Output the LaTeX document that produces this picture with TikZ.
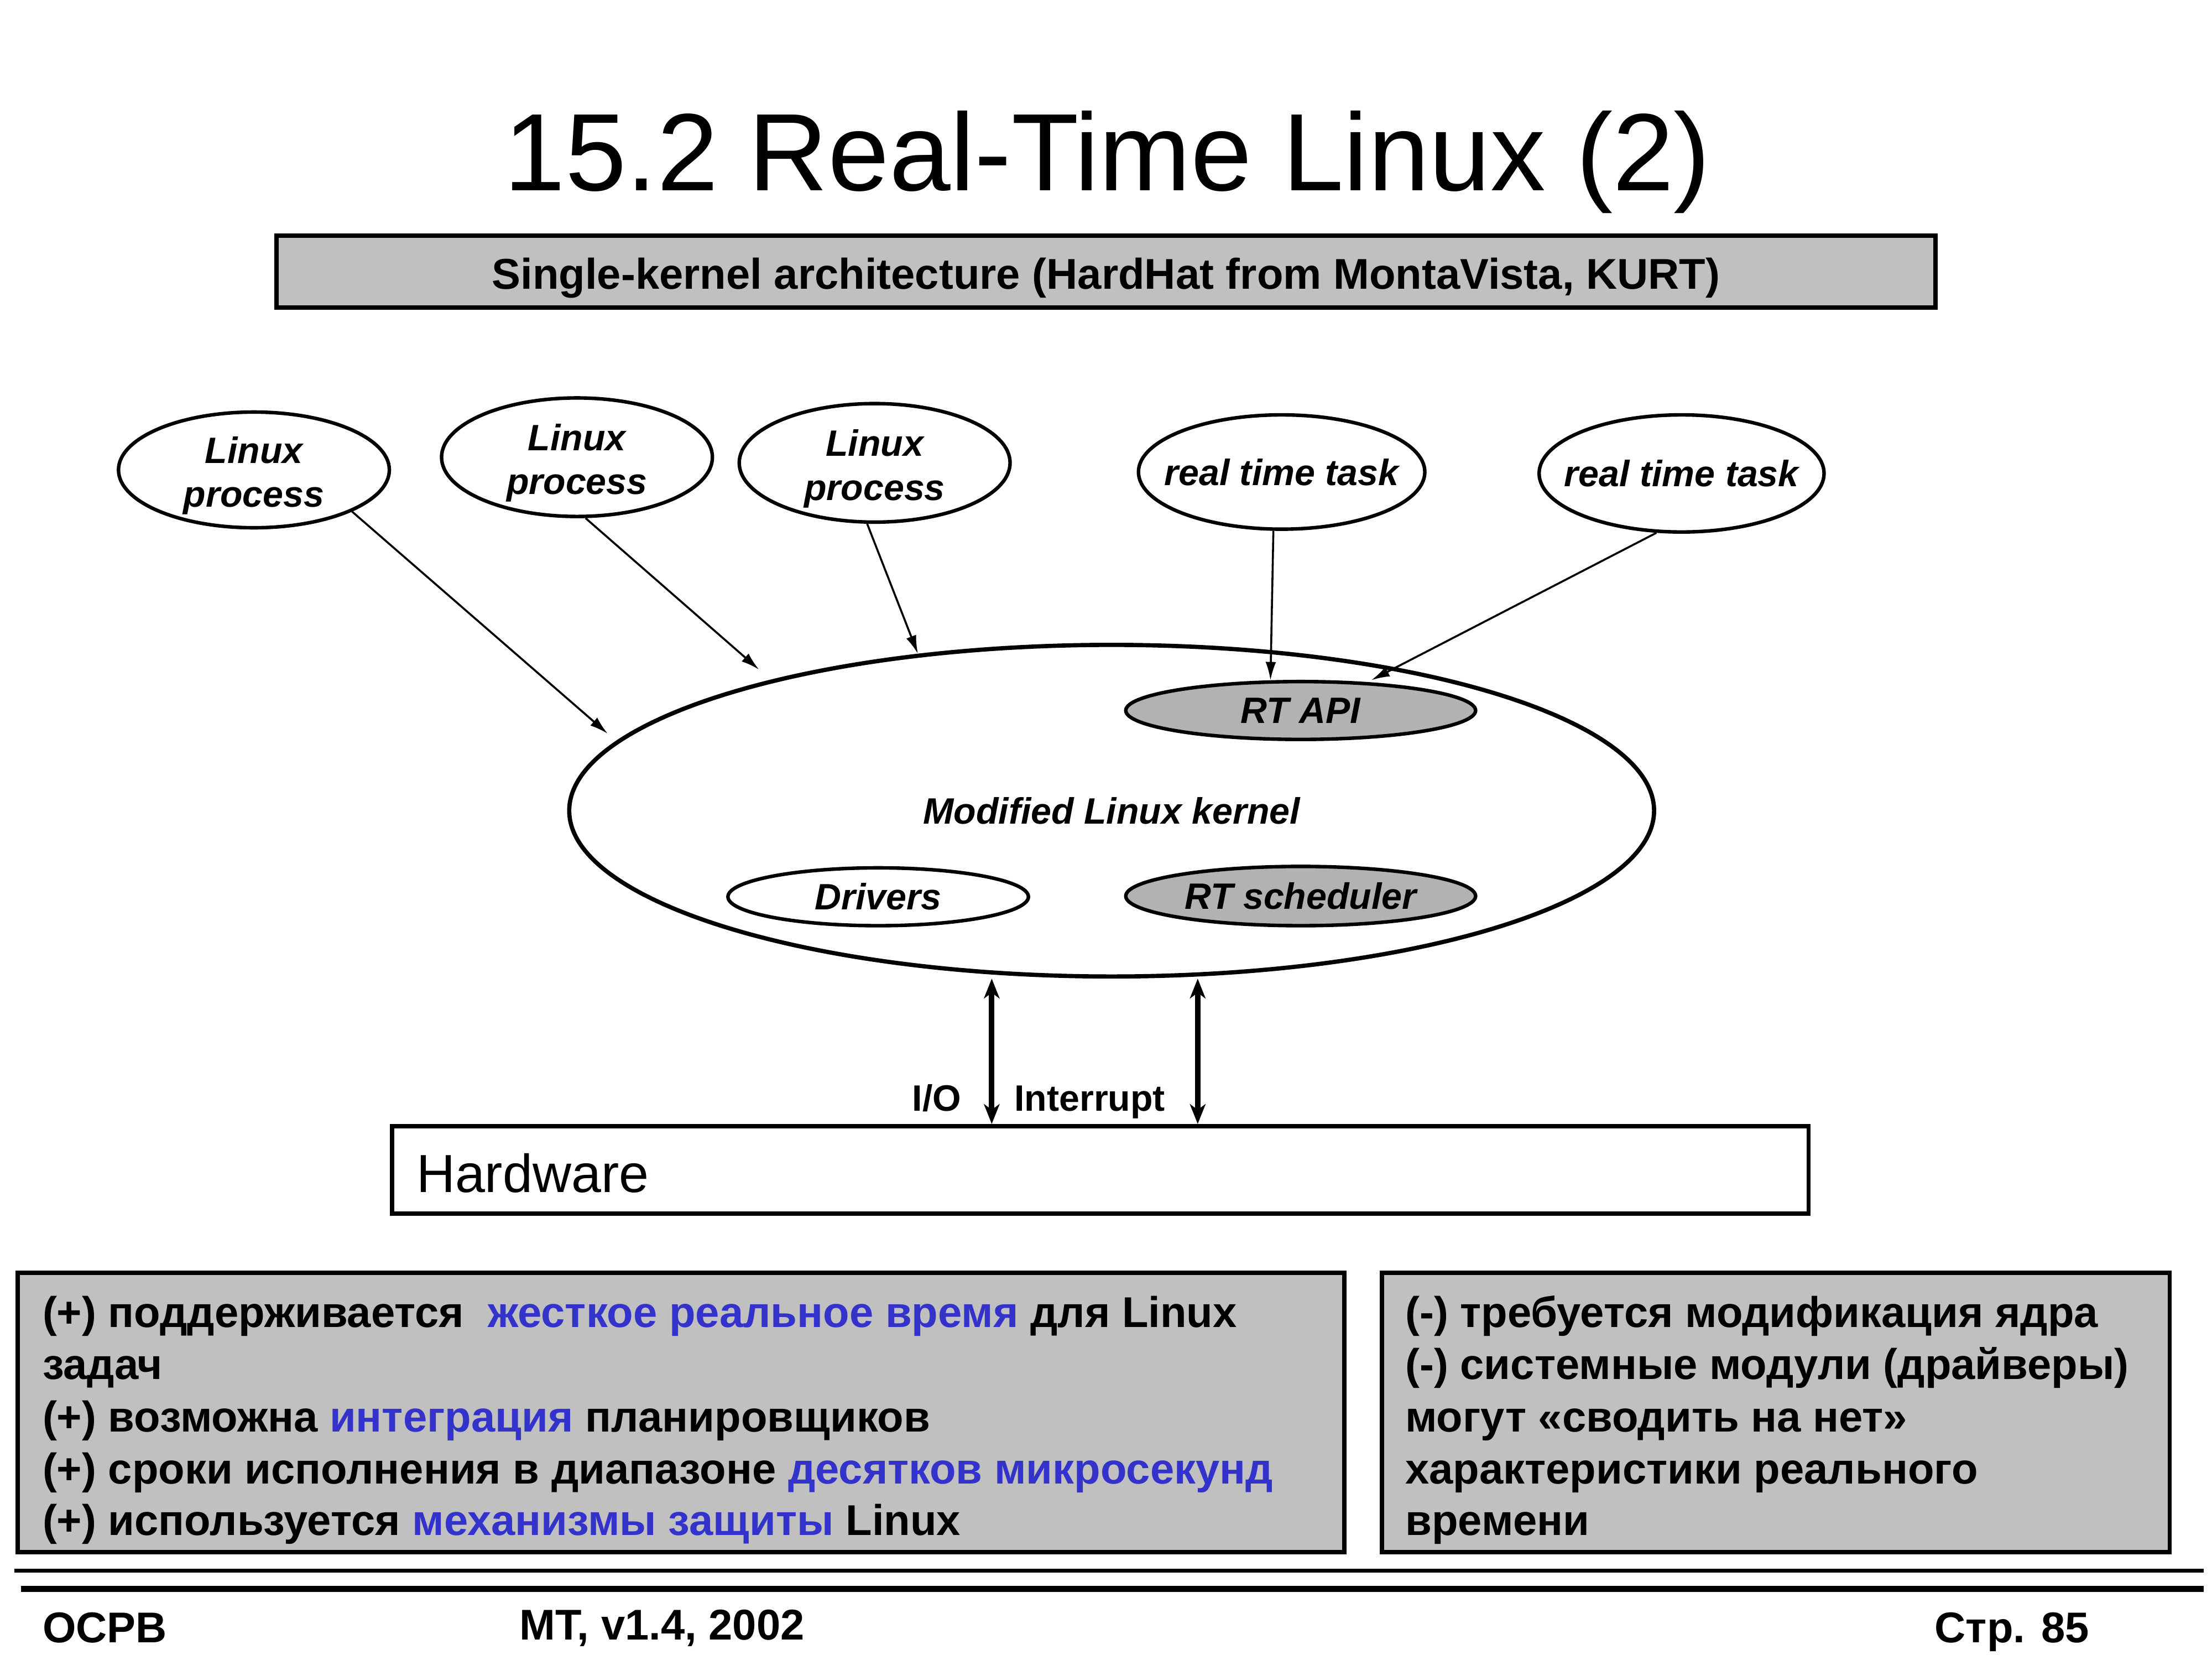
\documentclass[tikz,border=0pt]{standalone}
\usepackage{fontspec}
\setmainfont{Liberation Sans}
\usetikzlibrary{shapes.geometric,arrows.meta}
\definecolor{boxgray}{HTML}{C0C0C0}
\definecolor{apigray}{HTML}{B2B2B2}
\definecolor{hlblue}{HTML}{3333CC}
\newcommand{\bluetext}[1]{\textcolor{hlblue}{#1}}
\newcommand{\lowerline}{\rule{0pt}{27pt}}
\tikzset{
  proc/.style={ellipse, draw, line width=2.5pt, fill=white, inner sep=0pt, align=center,
    font=\bfseries\itshape\fontsize{26}{31.2}\selectfont},
  lproc/.style={proc, inner ysep=-6pt},
  grayfill/.style={fill=apigray},
  thinarrow/.style={line width=1.4pt, -{Latex[length=13pt,width=7.5pt]}},
  ioarrow/.style={line width=4pt, {Stealth[length=14pt,width=11pt,inset=4pt]}-{Stealth[length=14pt,width=11pt,inset=4pt]}},
  panel/.style={draw, line width=3pt, fill=boxgray, inner sep=0pt},
  body/.style={font=\bfseries\fontsize{30.5}{36.9}\selectfont, anchor=base west, inner sep=0pt},
  foot/.style={font=\bfseries\fontsize{30.5}{36}\selectfont, inner sep=0pt},
  iolabel/.style={font=\bfseries\fontsize{26}{31}\selectfont, anchor=base, inner sep=0pt},
}
\begin{document}
\begin{tikzpicture}[x=1pt,y=-1pt]
\useasboundingbox (0,0) rectangle (1568,1176);
\fill[white] (0,0) rectangle (1568,1176);

% title
\node[anchor=base, inner sep=0pt, font=\fontsize{78}{94}\selectfont] (title) at (785,135) {15.2 Real-Time Linux (2)};

% subtitle box
\node[panel, minimum width=1176pt, minimum height=51pt] (subbox) at (784,192.5) {};
\node[anchor=base, inner sep=0pt, font=\bfseries\fontsize{30.5}{36}\selectfont] (subtext) at (784,205) {Single-kernel architecture (HardHat from MontaVista, KURT)};

% process ellipses
\node[lproc, minimum width=192pt, minimum height=82pt] (l1) at (180,333) {\lowerline Linux\\process};
\node[lproc, minimum width=192pt, minimum height=84pt] (l2) at (409,324) {\lowerline Linux\\process};
\node[lproc, minimum width=192pt, minimum height=84pt] (l3) at (620,328) {\lowerline Linux\\process};
\node[proc, inner xsep=-20pt, minimum width=203pt, minimum height=81pt] (r1) at (908.5,334.5) {real time task};
\node[proc, inner xsep=-20pt, minimum width=202pt, minimum height=83pt] (r2) at (1192,335.5) {real time task};

% kernel
\node[proc, line width=3pt, minimum width=769pt, minimum height=235pt] (kernel) at (788,574.5) {\raisebox{-2pt}{Modified Linux kernel}};
\node[proc, grayfill, minimum width=248pt, minimum height=41pt] (api) at (922,503.5) {RT API};
\node[proc, minimum width=213pt, minimum height=41pt] (drv) at (622.5,635.5) {Drivers};
\node[proc, grayfill, minimum width=248pt, minimum height=42pt] (sched) at (922,635) {RT scheduler};

% arrows into kernel
\draw[thinarrow, shorten >=8pt] (l1.-23) -- (kernel.172.5);
\draw[thinarrow, shorten >=11pt] (l2.-82) -- (kernel.159);
\draw[thinarrow] (l3.-97.4) -- (kernel.141.7);
\draw[thinarrow] (r1.-98) -- (api.135);
\draw[thinarrow, shorten >=3pt] (r2.-113.4) -- (api.23.9);

% hardware
\node[draw, line width=3pt, fill=white, minimum width=1004pt, minimum height=62pt, inner sep=0pt] (hw) at (780,829) {};
\node[anchor=base west, inner sep=0pt, font=\fontsize{38}{45}\selectfont] (hwtext) at (295,845) {Hardware};

% I/O arrows
\coordinate (ioA) at (703,0);
\coordinate (ioB) at (849,0);
\draw[ioarrow] (kernel.south -| ioA) -- (hw.north -| ioA);
\draw[ioarrow] (kernel.south -| ioB) -- (hw.north -| ioB);
\node[iolabel] (io) at (664,787.5) {I/O};
\node[iolabel] (intr) at (772.5,787.5) {Interrupt};

% bottom panels
\node[panel, minimum width=940.5pt, minimum height=198pt] (pros) at (482.75,1001) {};
\node[panel, minimum width=558.5pt, minimum height=198pt] (cons) at (1258.75,1001) {};

\node[body] (p1) at (30,940.5) {(+) поддерживается~ \bluetext{жесткое реальное время} для Linux};
\node[body] (p2) at (30,977.5) {задач};
\node[body] (p3) at (30,1014.5) {(+) возможна \bluetext{интеграция} планировщиков};
\node[body] (p4) at (30,1051.5) {(+) сроки исполнения в диапазоне \bluetext{десятков микросекунд}};
\node[body] (p5) at (30,1088) {(+) используется \bluetext{механизмы защиты} Linux};

\node[body] (m1) at (996,940.5) {(-) требуется модификация ядра};
\node[body] (m2) at (996,977.5) {(-) системные модули (драйверы)};
\node[body] (m3) at (996,1014.5) {могут «сводить на нет»};
\node[body] (m4) at (996,1051.5) {характеристики реального};
\node[body] (m5) at (996,1088) {времени};

% footer
\draw[line width=2.5pt] (10,1113) -- (1562,1113);
\draw[line width=4.5pt] (15,1126) -- (1562,1126);
\node[foot, anchor=base west] (f1) at (30,1164) {ОСРВ};
\node[foot, anchor=base west] (f2) at (368,1162) {МТ, v1.4, 2002};
\node[foot, anchor=base east] (f3) at (1481,1164) {Стр. 85};
\end{tikzpicture}
\end{document}
